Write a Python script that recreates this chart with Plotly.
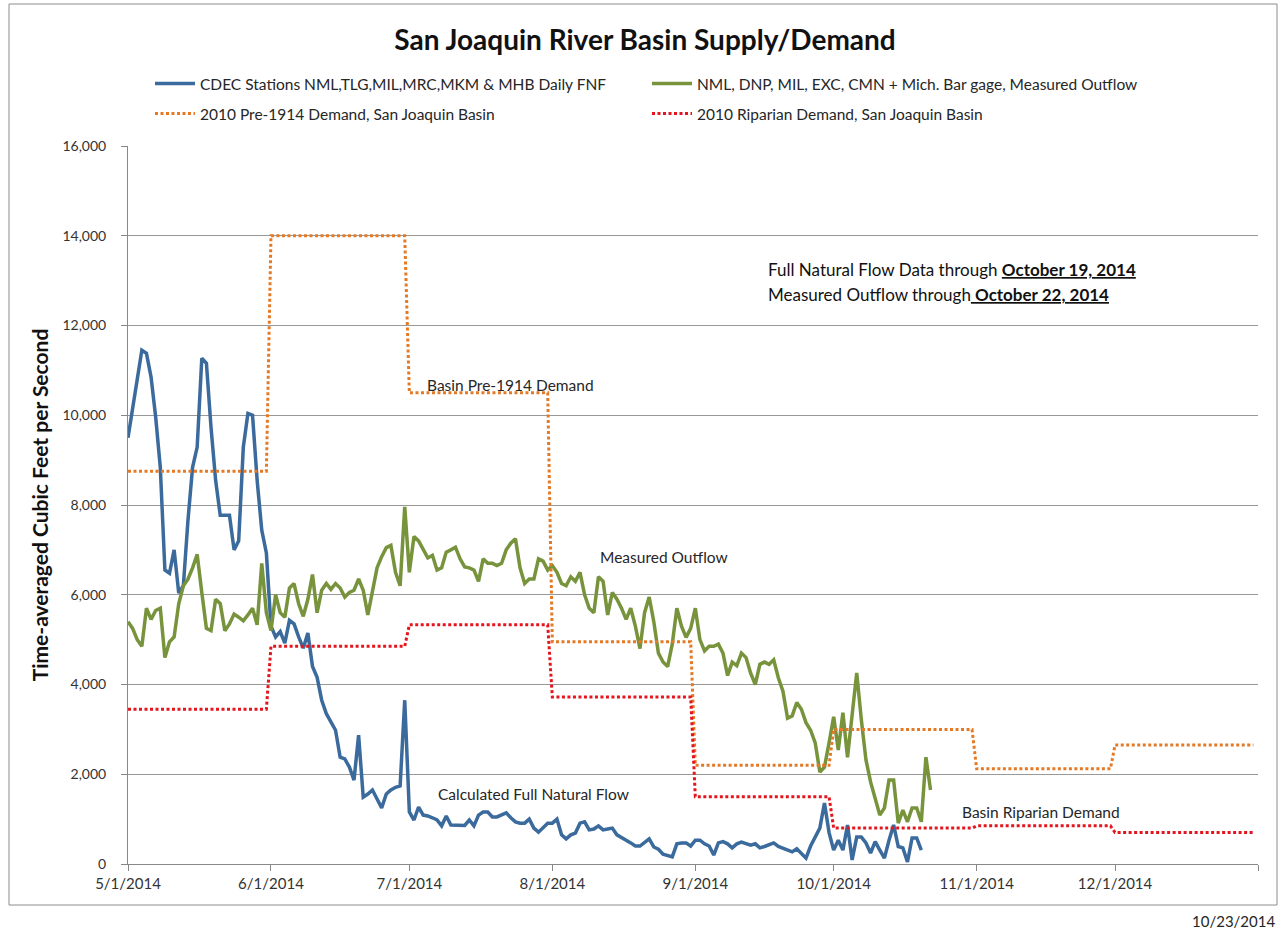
import plotly.graph_objects as go
import pandas as pd

# ---------------- data ----------------
START_DATE = "2014-05-01"

# Calculated full natural flow (CDEC stations), daily from 5/1/2014
fnf_values = [9500, 10150, 10800, 11450, 11380, 10850, 9960, 8840, 6550, 6480,
              7000, 6040, 6200, 7660, 8840, 9290, 11270, 11160, 9730, 8550,
              7770, 7770, 7770, 7000, 7200, 9290, 10040, 10000, 8550, 7440,
              6930, 5300, 5060, 5180, 4920, 5430, 5350, 5060, 4810, 5150,
              4400, 4160, 3650, 3350, 3160, 2980, 2380, 2340, 2160, 1870,
              2870, 1490, 1560, 1650, 1450, 1250, 1560, 1650, 1710, 1740,
              3650, 1160, 980, 1270, 1090, 1070, 1030, 980, 850, 1070,
              870, 870, 870, 860, 980, 850, 1090, 1160, 1160, 1050,
              1050, 1090, 1140, 1030, 940, 910, 910, 1000, 800, 710,
              800, 910, 910, 1000, 650, 560, 650, 690, 910, 940,
              760, 780, 850, 760, 780, 800, 650, 580, 530, 470,
              400, 400, 490, 560, 380, 330, 220, 180, 160, 450,
              470, 470, 400, 530, 530, 450, 400, 200, 470, 500,
              450, 360, 450, 490, 450, 420, 450, 360, 390, 420,
              470, 390, 350, 310, 270, 340, 245, 130, 400, 600,
              800, 1360, 700, 310, 530, 310, 870, 90, 600, 600,
              470, 245, 500, 310, 130, 530, 870, 390, 360, 45,
              580, 580, 310]

# Measured outflow, daily from 5/1/2014
outflow_values = [5400, 5250, 5000, 4850, 5700, 5450, 5650, 5700, 4600, 4950,
                  5060, 5800, 6200, 6350, 6600, 6900, 6050, 5250, 5200, 5900,
                  5800, 5200, 5350, 5570, 5500, 5420, 5550, 5700, 5330, 6700,
                  5600, 5200, 6000, 5600, 5500, 6150, 6250, 5800, 5520, 5900,
                  6450, 5600, 6100, 6250, 6120, 6250, 6150, 5950, 6050, 6100,
                  6350, 6100, 5550, 6100, 6600, 6850, 7050, 7100, 6500, 6200,
                  7960, 6500, 7300, 7200, 7000, 6820, 6880, 6550, 6600, 6950,
                  7000, 7060, 6800, 6620, 6600, 6550, 6300, 6800, 6700, 6700,
                  6650, 6700, 7000, 7150, 7250, 6600, 6250, 6350, 6350, 6800,
                  6750, 6550, 6650, 6500, 6250, 6200, 6400, 6300, 6500, 6000,
                  5700, 5600, 6400, 6300, 5550, 6050, 5900, 5700, 5450, 5700,
                  5300, 4800, 5600, 5950, 5400, 4700, 4500, 4400, 4900, 5700,
                  5300, 5050, 5250, 5700, 5000, 4750, 4850, 4850, 4900, 4700,
                  4200, 4500, 4420, 4700, 4600, 4250, 4000, 4450, 4500, 4450,
                  4550, 4150, 3850, 3250, 3300, 3600, 3450, 3150, 2980, 2700,
                  2050, 2160, 2700, 3280, 2540, 3370, 2380, 3280, 4260, 3210,
                  2320, 1830, 1430, 1090, 1250, 1870, 1870, 910, 1200, 940,
                  1250, 1250, 940, 2380, 1650]

# Monthly demand steps
demand_dates = ["2014-05-01", "2014-05-31", "2014-06-01", "2014-06-30",
                "2014-07-01", "2014-07-31", "2014-08-01", "2014-08-31",
                "2014-09-01", "2014-09-30", "2014-10-01", "2014-10-31",
                "2014-11-01", "2014-11-30", "2014-12-01", "2014-12-31"]
pre1914_values = [8750, 8750, 14000, 14000, 10500, 10500, 4950, 4950,
                  2200, 2200, 3000, 3000, 2120, 2120, 2650, 2650]
riparian_values = [3450, 3450, 4850, 4850, 5330, 5330, 3720, 3720,
                   1500, 1500, 800, 800, 850, 850, 700, 700]

tick_dates = ["2014-05-01", "2014-06-01", "2014-07-01", "2014-08-01",
              "2014-09-01", "2014-10-01", "2014-11-01", "2014-12-01", "2015-01-01"]
tick_labels = ["5/1/2014", "6/1/2014", "7/1/2014", "8/1/2014",
               "9/1/2014", "10/1/2014", "11/1/2014", "12/1/2014", ""]

series_names = ["CDEC Stations NML,TLG,MIL,MRC,MKM & MHB Daily FNF",
                "NML, DNP, MIL, EXC, CMN + Mich. Bar gage, Measured Outflow",
                "2010 Pre-1914 Demand, San Joaquin Basin",
                "2010 Riparian Demand, San Joaquin Basin"]

# ---------------- figure ----------------
FONT = "Lato, Carlito, Calibri, 'Open Sans', sans-serif"
W, H = 1279, 933
PL, PR, PT, PB = 128, 1258, 146, 864   # plot area in px


def px_x(px):
    return (px - PL) / (PR - PL)


def px_y(py):
    return (PB - py) / (PB - PT)


fnf_dates = pd.date_range(START_DATE, periods=len(fnf_values), freq="D")
out_dates = pd.date_range(START_DATE, periods=len(outflow_values), freq="D")

fig = go.Figure()
fig.add_trace(go.Scatter(x=fnf_dates, y=fnf_values, mode="lines", name=series_names[0],
                         line=dict(color="#3B6A9C", width=3.5), legend="legend"))
fig.add_trace(go.Scatter(x=out_dates, y=outflow_values, mode="lines", name=series_names[1],
                         line=dict(color="#77933C", width=3.5), legend="legend"))
fig.add_trace(go.Scatter(x=pd.to_datetime(demand_dates), y=pre1914_values, mode="lines",
                         name=series_names[2],
                         line=dict(color="#E47A26", width=3, dash="3px,2.5px"), legend="legend2"))
fig.add_trace(go.Scatter(x=pd.to_datetime(demand_dates), y=riparian_values, mode="lines",
                         name=series_names[3],
                         line=dict(color="#E3151D", width=3, dash="3px,2.5px"), legend="legend2"))

legend_common = dict(orientation="h", xanchor="left", yanchor="middle",
                     font=dict(family=FONT, size=15.5, color="#262626"),
                     bgcolor="rgba(0,0,0,0)", entrywidth=442, entrywidthmode="pixels",
                     itemwidth=40)

fig.update_layout(
    width=W, height=H, autosize=False,
    margin=dict(l=PL, r=W - PR, t=PT, b=H - PB),
    paper_bgcolor="white", plot_bgcolor="white",
    font=dict(family=FONT, size=14, color="#262626"),
    title=dict(text="<b>San Joaquin River Basin Supply/Demand</b>",
               font=dict(family=FONT, size=28, color="#111111"),
               x=645 / W, xanchor="center", y=1 - 40 / H, yanchor="middle",
               xref="container", yref="container"),
    legend=dict(x=px_x(150), y=px_y(84), **legend_common),
    legend2=dict(x=px_x(150), y=px_y(114), **legend_common),
    xaxis=dict(type="date", range=["2014-05-01", "2015-01-01"],
               tickmode="array", tickvals=tick_dates, ticktext=tick_labels,
               ticks="outside", ticklen=6, tickcolor="#888888",
               showline=True, linecolor="#888888", linewidth=1,
               showgrid=False, zeroline=False,
               tickfont=dict(family=FONT, size=15, color="#333333")),
    yaxis=dict(range=[0, 16000], tickmode="linear", tick0=0, dtick=2000,
               tickformat=",d", ticks="outside", ticklen=6, tickcolor="#888888",
               ticklabelstandoff=12,
               showline=True, linecolor="#888888", linewidth=1,
               showgrid=True, gridcolor="#999999", gridwidth=1, zeroline=False,
               tickfont=dict(family=FONT, size=14, color="#333333"),
               title=dict(text="<b>Time-averaged Cubic Feet per Second</b>",
                          font=dict(family=FONT, size=21, color="#111111"),
                          standoff=8)),
    showlegend=True,
)

ann_font = dict(family=FONT, size=15.5, color="#262626")
labels = [
    ("2014-07-04 10:00", 10680, "Basin Pre-1914 Demand"),
    ("2014-08-10 22:00", 6840, "Measured Outflow"),
    ("2014-07-06 19:00", 1560, "Calculated Full Natural Flow"),
    ("2014-10-28 10:00", 1160, "Basin Riparian Demand"),
]
for xv, yv, txt in labels:
    fig.add_annotation(x=xv, y=yv, text=txt, showarrow=False, xanchor="left",
                       yanchor="middle", font=ann_font)

fig.add_annotation(x=px_x(766), y=px_y(270), xref="paper", yref="paper", showarrow=False,
                   xanchor="left", yanchor="middle",
                   text="Full Natural Flow Data through <b><span style='text-decoration:underline'>October 19, 2014</span></b>",
                   font=dict(family=FONT, size=17, color="#111111"))
fig.add_annotation(x=px_x(766), y=px_y(294), xref="paper", yref="paper", showarrow=False,
                   xanchor="left", yanchor="middle",
                   text="Measured Outflow through<b><span style='text-decoration:underline'> October 22, 2014</span></b>",
                   font=dict(family=FONT, size=17, color="#111111"))
fig.add_annotation(x=px_x(1190), y=px_y(921), xref="paper", yref="paper", showarrow=False,
                   xanchor="left", yanchor="middle", text="10/23/2014",
                   font=dict(family=FONT, size=15, color="#262626"))

# outer chart border
fig.add_shape(type="rect", xref="paper", yref="paper",
              x0=px_x(9), x1=px_x(1277), y0=px_y(905), y1=px_y(4),
              line=dict(color="#8c8c8c", width=1), fillcolor="rgba(0,0,0,0)", layer="below")

fig.write_html("out.html", config={"displayModeBar": False},
               post_script="document.body.style.margin='0';document.body.style.overflow='hidden';")
